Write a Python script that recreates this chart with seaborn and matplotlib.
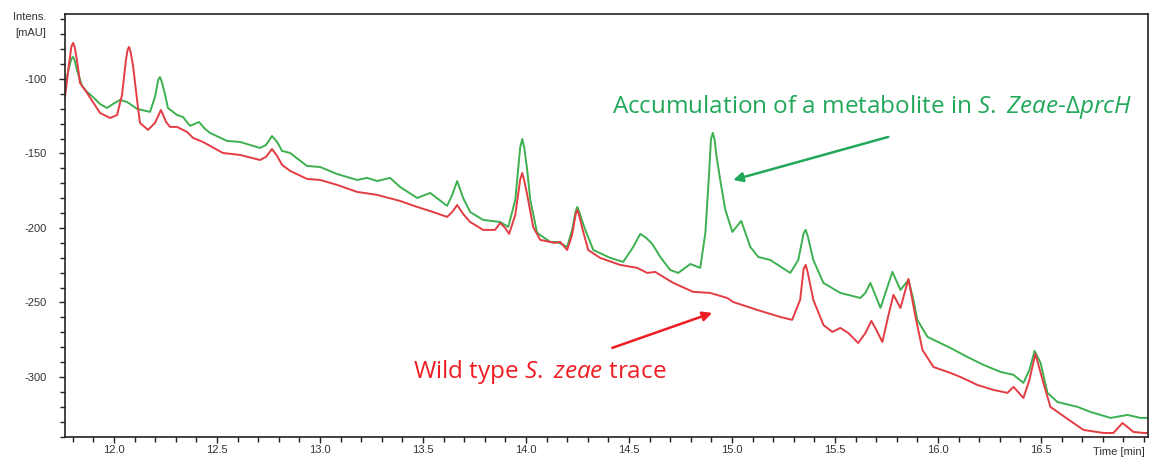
import matplotlib
matplotlib.use('Agg')

import pandas as pd
import matplotlib.pyplot as plt
import seaborn as sns
from matplotlib.ticker import MultipleLocator, FixedLocator, FormatStrFormatter

# Retention times [min] and intensities [mAU]
mutant_time = [11.762, 11.781, 11.793, 11.801, 11.809, 11.820, 11.845, 11.869, 11.898, 11.932,
               11.966, 11.995, 12.029, 12.063, 12.112, 12.175, 12.199, 12.215, 12.223, 12.231,
               12.248, 12.262, 12.306, 12.335, 12.369, 12.413, 12.442, 12.466, 12.549, 12.612,
               12.709, 12.738, 12.767, 12.792, 12.816, 12.855, 12.937, 13.001, 13.083, 13.180,
               13.229, 13.277, 13.340, 13.389, 13.472, 13.535, 13.617, 13.642, 13.666, 13.695,
               13.729, 13.792, 13.875, 13.914, 13.948, 13.972, 13.982, 13.992, 14.006, 14.021,
               14.054, 14.118, 14.152, 14.200, 14.224, 14.241, 14.249, 14.257, 14.268, 14.288,
               14.327, 14.409, 14.472, 14.521, 14.555, 14.584, 14.613, 14.652, 14.700, 14.739,
               14.798, 14.846, 14.871, 14.890, 14.898, 14.907, 14.916, 14.924, 14.943, 14.968,
               15.002, 15.045, 15.089, 15.128, 15.186, 15.283, 15.322, 15.348, 15.358, 15.368,
               15.395, 15.444, 15.526, 15.623, 15.648, 15.672, 15.696, 15.721, 15.750, 15.779,
               15.818, 15.857, 15.881, 15.900, 15.949, 16.060, 16.143, 16.221, 16.303, 16.367,
               16.415, 16.444, 16.469, 16.498, 16.532, 16.580, 16.678, 16.741, 16.838, 16.920,
               16.983, 17.022]
mutant_intensity = [-105.4, -92.6, -86.5, -85.2, -87.5, -94.0, -104.7, -108.7, -112.1, -116.8,
                    -119.5, -116.8, -114.1, -115.4, -120.1, -122.1, -112.0, -100.5, -98.7, -101.5,
                    -110.7, -119.5, -124.2, -125.5, -131.5, -128.9, -133.6, -136.2, -141.6, -142.3,
                    -146.3, -144.3, -138.3, -142.3, -148.3, -149.7, -158.4, -159.1, -163.8, -167.8,
                    -166.4, -168.5, -166.4, -172.5, -179.9, -176.5, -185.2, -177.8, -168.5, -179.9,
                    -189.3, -194.6, -196.0, -199.3, -181.2, -146.0, -140.3, -146.5, -161.1, -181.2,
                    -203.3, -209.4, -209.4, -212.7, -201.3, -189.0, -185.9, -188.5, -193.3, -201.3,
                    -214.8, -220.1, -222.8, -212.7, -204.0, -206.7, -210.7, -219.5, -228.2, -230.2,
                    -224.2, -226.8, -203.3, -161.1, -140.5, -136.2, -141.0, -150.9, -167.8, -187.9,
                    -202.7, -195.3, -212.7, -219.5, -221.5, -230.2, -221.5, -203.5, -201.3, -205.5,
                    -221.5, -236.9, -243.6, -247.0, -243.6, -236.9, -245.0, -253.7, -241.6, -229.5,
                    -241.6, -234.9, -248.3, -261.7, -273.1, -280.5, -286.6, -291.9, -296.6, -298.6,
                    -304.0, -295.3, -282.5, -290.5, -310.7, -316.8, -320.1, -323.5, -327.5, -325.5,
                    -327.5, -327.5]

wild_time = [11.762, 11.781, 11.793, 11.801, 11.809, 11.820, 11.835, 11.869, 11.932, 11.981,
             12.015, 12.039, 12.058, 12.066, 12.073, 12.080, 12.092, 12.112, 12.126, 12.165,
             12.199, 12.228, 12.253, 12.272, 12.306, 12.355, 12.384, 12.432, 12.529, 12.612,
             12.709, 12.738, 12.767, 12.792, 12.816, 12.855, 12.937, 13.001, 13.083, 13.180,
             13.277, 13.389, 13.472, 13.549, 13.617, 13.642, 13.666, 13.695, 13.729, 13.792,
             13.850, 13.875, 13.899, 13.918, 13.948, 13.972, 13.982, 13.992, 14.006, 14.035,
             14.069, 14.142, 14.166, 14.200, 14.224, 14.241, 14.249, 14.257, 14.273, 14.302,
             14.360, 14.457, 14.540, 14.589, 14.627, 14.715, 14.812, 14.894, 14.977, 15.006,
             15.122, 15.234, 15.292, 15.331, 15.348, 15.358, 15.368, 15.395, 15.444, 15.487,
             15.526, 15.565, 15.613, 15.648, 15.677, 15.701, 15.730, 15.760, 15.784, 15.818,
             15.857, 15.891, 15.925, 15.978, 16.060, 16.109, 16.192, 16.269, 16.337, 16.367,
             16.415, 16.444, 16.473, 16.512, 16.546, 16.629, 16.707, 16.804, 16.852, 16.896,
             16.949, 16.998, 17.022]
wild_intensity = [-112.1, -90.6, -78.5, -75.8, -78.5, -87.2, -102.7, -109.4, -122.8, -126.2,
                  -124.2, -110.7, -87.2, -80.5, -78.5, -81.5, -90.6, -114.1, -129.5, -134.2,
                  -129.5, -120.8, -128.9, -132.2, -132.2, -135.6, -139.6, -142.3, -149.7, -151.0,
                  -154.4, -152.3, -147.0, -151.7, -157.7, -161.7, -167.1, -167.8, -171.1, -175.8,
                  -177.8, -181.9, -185.9, -189.3, -192.6, -189.3, -184.6, -190.6, -196.0, -201.3,
                  -201.3, -196.6, -200.0, -204.0, -191.3, -167.5, -163.1, -168.5, -177.8, -199.3,
                  -208.0, -210.1, -209.4, -214.8, -204.6, -191.0, -187.9, -191.0, -200.0, -214.8,
                  -220.1, -224.8, -226.8, -230.2, -229.5, -236.9, -242.9, -243.6, -247.0, -249.7,
                  -255.0, -259.7, -261.7, -248.3, -227.5, -224.8, -230.0, -248.3, -265.1, -269.8,
                  -267.1, -270.5, -277.2, -270.5, -262.4, -268.5, -276.5, -258.4, -244.9, -253.7,
                  -234.2, -259.7, -281.9, -293.3, -297.3, -300.0, -305.4, -308.7, -310.7, -306.7,
                  -314.1, -302.0, -284.5, -304.0, -320.1, -328.2, -335.6, -337.6, -337.6, -330.9,
                  -336.9, -337.6, -337.6]

x_major = [12.0, 12.5, 13.0, 13.5, 14.0, 14.5, 15.0, 15.5, 16.0, 16.5]

mutant = pd.DataFrame({'time': mutant_time, 'intensity': mutant_intensity})
wild = pd.DataFrame({'time': wild_time, 'intensity': wild_intensity})

sns.set_style('ticks')
plt.rcParams['font.family'] = ['Liberation Sans', 'DejaVu Sans']
plt.rcParams['axes.unicode_minus'] = False
plt.rcParams['mathtext.fontset'] = 'custom'
plt.rcParams['mathtext.rm'] = 'Open Sans'
plt.rcParams['mathtext.it'] = 'Open Sans:italic'

green_line = '#3DB04F'
red_line = '#E33C43'
green_text = '#22A85A'
red_text = '#EE1D23'
ink = '#333333'

fig = plt.figure(figsize=(11.5, 4.57), dpi=100)
ax = fig.add_axes([0.0565, 0.0438, 0.9418, 0.9256])

line_kw = dict(sort=False, ax=ax, linewidth=1.4, solid_joinstyle='round')
sns.lineplot(data=mutant, x='time', y='intensity', color=green_line, **line_kw)
sns.lineplot(data=wild, x='time', y='intensity', color=red_line, **line_kw)

ax.set_xlim(11.762, 17.02)
ax.set_ylim(-340.3, -56.4)
ax.xaxis.set_major_locator(FixedLocator(x_major))
ax.xaxis.set_minor_locator(MultipleLocator(0.1))
ax.yaxis.set_major_locator(MultipleLocator(50))
ax.yaxis.set_minor_locator(MultipleLocator(10))
ax.xaxis.set_major_formatter(FormatStrFormatter('%.1f'))
ax.tick_params(which='major', length=4, width=1, labelsize=8, color='#222222',
               labelcolor=ink)
ax.tick_params(which='minor', length=3.5, width=1, color='#222222')
ax.tick_params(axis='x', which='major', pad=1.5)
ax.tick_params(axis='y', which='major', pad=9)
ax.set_xlabel('')
ax.set_ylabel('')
for side in ['left', 'bottom', 'top', 'right']:
    ax.spines[side].set_color('#222222')
    ax.spines[side].set_linewidth(1.2)

fig.text(0.040, 1 - 17 / 457, 'Intens.', ha='right', va='center', fontsize=8, color=ink)
fig.text(0.040, 1 - 33 / 457, '[mAU]', ha='right', va='center', fontsize=8, color=ink)
fig.text(0.9957, 1 - 452 / 457, 'Time [min]', ha='right', va='center', fontsize=8,
         color=ink)

# annotations
ax.annotate('', xy=(15.006, -167.8), xytext=(15.759, -138.9),
            arrowprops=dict(arrowstyle='-|>', color=green_text, lw=1.8,
                            mutation_scale=14, shrinkA=0, shrinkB=0))
ax.annotate('', xy=(14.904, -257.0), xytext=(14.419, -280.5),
            arrowprops=dict(arrowstyle='-|>', color=red_text, lw=1.8,
                            mutation_scale=14, shrinkA=0, shrinkB=0))

ax.text(14.419, -118.8,
        r'Accumulation of a metabolite in $\it{S.}$ $\it{Zeae}$-$\it{\Delta prcH}$',
        color=green_text, fontsize=17.5, family=['Open Sans', 'DejaVu Sans'],
        ha='left', va='center')
ax.text(13.452, -296.6, r'Wild type $\it{S.}$ $\it{zeae}$ trace',
        color=red_text, fontsize=17.5, family=['Open Sans', 'DejaVu Sans'],
        ha='left', va='center')

plt.savefig('out.png', dpi=100)
